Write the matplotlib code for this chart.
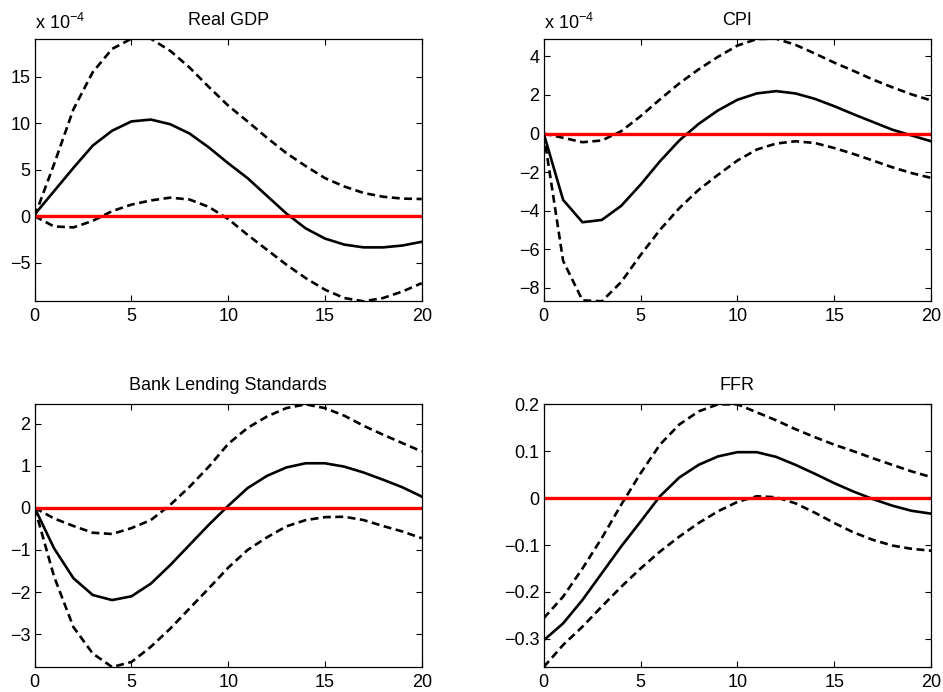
import matplotlib
matplotlib.use("Agg")
import matplotlib.pyplot as plt
import numpy as np
from matplotlib.ticker import FuncFormatter

plt.rcParams['font.family'] = ['Liberation Sans', 'DejaVu Sans']
plt.rcParams['font.size'] = 13

# Impulse response horizons
horizon = list(range(21))

# Real GDP (units of 1e-4)
gdp_mid = [0.2, 2.7, 5.2, 7.6, 9.2, 10.2, 10.4, 9.9, 8.9, 7.4, 5.7,
           4.1, 2.2, 0.3, -1.3, -2.4, -3.05, -3.35, -3.35, -3.15, -2.75]
gdp_hi = [0.0, 5.6, 11.5, 15.5, 18.0, 19.1, 19.1, 17.8, 16.0, 13.9, 11.9,
          10.2, 8.45, 6.8, 5.4, 4.1, 3.2, 2.5, 2.1, 1.9, 1.85]
gdp_lo = [0.0, -1.1, -1.2, -0.5, 0.55, 1.25, 1.7, 2.0, 1.8, 1.0, -0.3,
          -2.0, -3.6, -5.2, -6.65, -7.9, -8.8, -9.15, -8.8, -8.1, -7.2]

# CPI (units of 1e-4)
cpi_mid = [0.0, -3.44, -4.6, -4.48, -3.75, -2.65, -1.44, -0.36, 0.5, 1.2, 1.75,
           2.08, 2.2, 2.08, 1.8, 1.42, 1.0, 0.6, 0.2, -0.1, -0.4]
cpi_hi = [0.0, -0.22, -0.45, -0.36, 0.12, 0.9, 1.77, 2.6, 3.33, 3.98, 4.56,
          4.9, 4.92, 4.6, 4.15, 3.68, 3.25, 2.8, 2.4, 2.03, 1.72]
cpi_lo = [0.0, -6.6, -8.65, -8.7, -7.7, -6.3, -5.0, -3.87, -2.92, -2.14, -1.4,
          -0.83, -0.52, -0.4, -0.49, -0.75, -1.06, -1.4, -1.75, -2.05, -2.3]

# Bank lending standards
bls_mid = [0.0, -0.96, -1.67, -2.07, -2.19, -2.1, -1.8, -1.36, -0.88, -0.4, 0.05,
           0.47, 0.76, 0.96, 1.06, 1.06, 0.98, 0.84, 0.67, 0.49, 0.27]
bls_hi = [0.0, -0.25, -0.43, -0.59, -0.62, -0.48, -0.29, 0.07, 0.5, 0.98, 1.52,
          1.9, 2.17, 2.37, 2.46, 2.37, 2.19, 1.95, 1.74, 1.54, 1.34]
bls_lo = [0.0, -1.63, -2.83, -3.46, -3.78, -3.66, -3.3, -2.87, -2.39, -1.91, -1.42,
          -1.0, -0.7, -0.44, -0.29, -0.22, -0.21, -0.29, -0.43, -0.56, -0.72]

# Federal funds rate
ffr_mid = [-0.303, -0.267, -0.217, -0.16, -0.103, -0.05, 0.004, 0.044, 0.071, 0.089, 0.098,
           0.098, 0.088, 0.071, 0.052, 0.032, 0.014, -0.002, -0.016, -0.027, -0.033]
ffr_hi = [-0.256, -0.21, -0.15, -0.085, -0.014, 0.053, 0.114, 0.157, 0.185, 0.2, 0.2,
          0.183, 0.166, 0.147, 0.13, 0.114, 0.1, 0.085, 0.071, 0.057, 0.045]
ffr_lo = [-0.36, -0.313, -0.274, -0.231, -0.189, -0.15, -0.114, -0.082, -0.053, -0.028, -0.008,
          0.004, 0.002, -0.011, -0.031, -0.053, -0.073, -0.089, -0.101, -0.108, -0.112]

zero_line = [0.0] * len(horizon)

panels = [
    ("Real GDP", gdp_mid, gdp_hi, gdp_lo, [-5, 0, 5, 10, 15], True),
    ("CPI", cpi_mid, cpi_hi, cpi_lo, [-8, -6, -4, -2, 0, 2, 4], True),
    ("Bank Lending Standards", bls_mid, bls_hi, bls_lo, [-3, -2, -1, 0, 1, 2], False),
    ("FFR", ffr_mid, ffr_hi, ffr_lo, [-0.3, -0.2, -0.1, 0, 0.1, 0.2], False),
]

positions = [
    [0.0368, 0.5646, 0.4104, 0.3795],
    [0.5766, 0.5646, 0.4107, 0.3795],
    [0.0368, 0.0361, 0.4104, 0.3796],
    [0.5766, 0.0361, 0.4107, 0.3796],
]

fig = plt.figure(figsize=(9.43, 6.92), dpi=100)

fmt = FuncFormatter(lambda v, p: ('%g' % v).replace('-', '\u2212'))
dash = (0, (3.0, 1.7))

for (title, mid, hi, lo, yt, scaled), pos in zip(panels, positions):
    ax = fig.add_axes(pos)
    ax.plot(horizon, mid, color='black', linewidth=1.9)
    ax.plot(horizon, hi, color='black', linewidth=1.9, linestyle=dash)
    ax.plot(horizon, lo, color='black', linewidth=1.9, linestyle=dash)
    ax.plot(horizon, zero_line, color='red', linewidth=2.4)
    allv = np.concatenate([mid, hi, lo])
    ax.set_xlim(0, 20)
    ax.set_ylim(allv.min(), allv.max())
    ax.set_xticks([0, 5, 10, 15, 20])
    ax.set_yticks(yt)
    ax.yaxis.set_major_formatter(fmt)
    ax.tick_params(direction='in', top=True, right=True, length=4, width=0.8,
                   labelsize=13)
    ax.tick_params(axis='x', pad=5)
    ax.tick_params(axis='y', pad=3)
    for s in ax.spines.values():
        s.set_linewidth(0.9)
    ax.set_title(title, fontsize=13, pad=10)
    if scaled:
        ax.text(0, 1.02, r'x 10$^{\mathregular{-4}}$', transform=ax.transAxes,
                ha='left', va='bottom', fontsize=13)

fig.savefig("out.png", dpi=100)
